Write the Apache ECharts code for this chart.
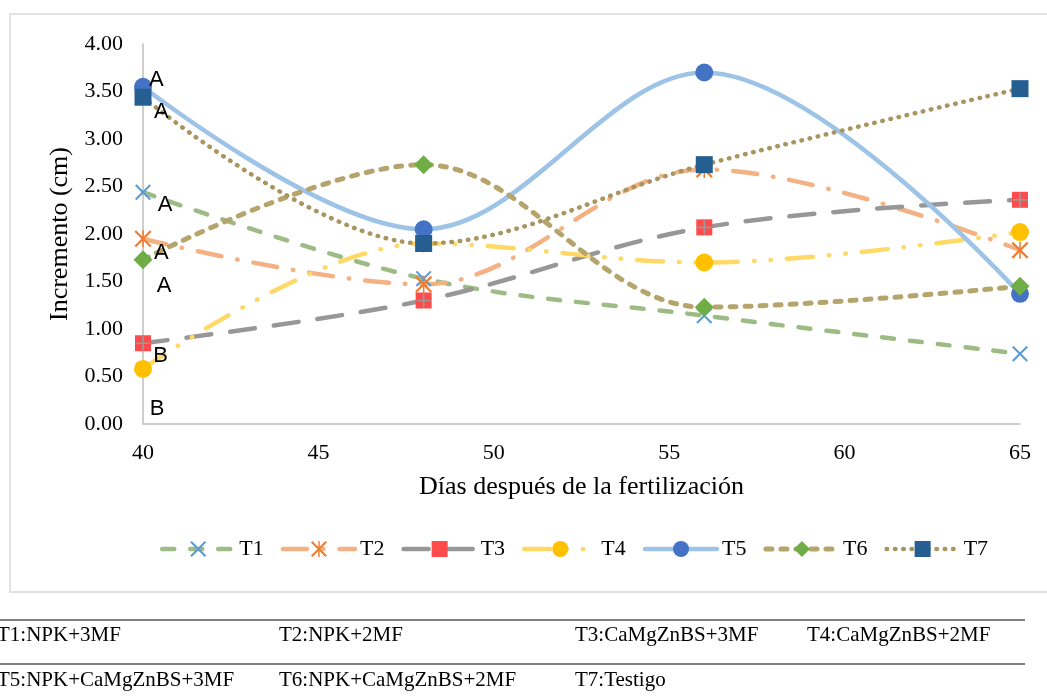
<!DOCTYPE html>
<html>
<head>
<meta charset="utf-8">
<style>
  html, body { margin: 0; padding: 0; background: #ffffff; }
  #chart { width: 1047px; height: 698px; }
</style>
<script src="https://cdn.jsdelivr.net/npm/echarts@6/dist/echarts.min.js"></script>
</head>
<body>
<div id="chart"></div>
<script>
// Days after fertilization at which growth was measured
const days = [40, 48, 56, 65];

// Growth increment (cm) per treatment
const t1 = [2.44, 1.53, 1.14, 0.74];
const t2 = [1.95, 1.47, 2.68, 1.83];
const t3 = [0.85, 1.30, 2.07, 2.36];
const t4 = [0.58, 1.90, 1.70, 2.02];
const t5 = [3.55, 2.05, 3.70, 1.37];
const t6 = [1.73, 2.73, 1.23, 1.45];
const t7 = [3.44, 1.90, 2.73, 3.53];

const seriesNames = ['T1', 'T2', 'T3', 'T4', 'T5', 'T6', 'T7'];

// Significance letters at day 40
const letterText = ['A', 'A', 'A', 'A', 'A', 'B', 'B'];
const letterX = [40.38, 40.52, 40.63, 40.52, 40.6, 40.5, 40.4];
const letterY = [3.62, 3.29, 2.31, 1.80, 1.45, 0.72, 0.16];

// Treatment descriptions shown under the chart
const notesRow1 = ['T1:NPK+3MF', 'T2:NPK+2MF', 'T3:CaMgZnBS+3MF', 'T4:CaMgZnBS+2MF'];
const notesRow2 = ['T5:NPK+CaMgZnBS+3MF', 'T6:NPK+CaMgZnBS+2MF', 'T7:Testigo'];

const serif = '"Liberation Serif", "Times New Roman", serif';
const sans = '"Liberation Sans", Arial, sans-serif';

const pairs = vals => days.map((d, i) => [d, vals[i]]);

// marker shapes
const crossPath = 'path://M0,0.9 L0.9,0 L10,9.1 L9.1,10 Z M9.1,0 L10,0.9 L0.9,10 L0,9.1 Z';
const starPath = 'path://M0,0.9 L0.9,0 L10,9.1 L9.1,10 Z M9.1,0 L10,0.9 L0.9,10 L0,9.1 Z M4.55,0 L5.45,0 L5.45,10 L4.55,10 Z';
const plusPath = 'path://M4.4,0 L5.6,0 L5.6,4.4 L10,4.4 L10,5.6 L5.6,5.6 L5.6,10 L4.4,10 L4.4,5.6 L0,5.6 L0,4.4 L4.4,4.4 Z';

// line look per treatment: colour, dash pattern, width
const lineLooks = {
  T1: { color: '#9DBB84', type: [12, 16], width: 4.5 },
  T2: { color: '#F4B183', type: [24, 16, 0.5, 16], width: 4.5 },
  T3: { color: '#979797', type: [25, 19], width: 4.5 },
  T4: { color: '#FFD966', type: [26, 16, 0.5, 16, 0.5, 16], width: 4.5 },
  T5: { color: '#9DC3E6', type: 'solid', width: 4.5 },
  T6: { color: '#B5A46B', type: [6, 9], width: 5 },
  T7: { color: '#A8955F', type: [0.5, 7.8], width: 4.5 }
};

function lineSeries(name, vals, symbol, symbolSize, markColor) {
  const look = lineLooks[name];
  return {
    name: name,
    type: 'line',
    data: pairs(vals),
    smooth: 0.35,
    symbol: symbol,
    symbolSize: symbolSize,
    showAllSymbol: true,
    itemStyle: { color: markColor, borderWidth: 0 },
    lineStyle: { color: look.color, width: look.width, type: look.type, cap: 'round' },
    emphasis: { disabled: true },
    z: 2
  };
}

const series = [
  lineSeries('T1', t1, crossPath, 16, '#5B9BD5'),
  lineSeries('T2', t2, starPath, 17, '#ED7D31'),
  lineSeries('T3', t3, 'rect', 16, '#FF4B4B'),
  lineSeries('T4', t4, 'circle', 18, '#FFC000'),
  lineSeries('T5', t5, 'circle', 18, '#4472C4'),
  lineSeries('T6', t6, 'diamond', 19, '#70AD47'),
  lineSeries('T7', t7, 'rect', 17, '#255E91'),
  {
    // gray cross drawn on top of the T3 squares
    name: 'T3',
    type: 'scatter',
    data: pairs(t3),
    symbol: plusPath,
    symbolSize: 14,
    itemStyle: { color: '#9A9A9A', opacity: 1 },
    emphasis: { disabled: true },
    z: 3
  },
  {
    name: 'letters',
    type: 'scatter',
    data: letterX.map((x, i) => [x, letterY[i], letterText[i]]),
    symbolSize: 0,
    itemStyle: { opacity: 1 },
    label: {
      show: true,
      position: 'inside',
      formatter: p => p.data[2],
      fontFamily: sans,
      fontSize: 22,
      color: '#000000',
      opacity: 1,
      textBorderWidth: 0
    },
    emphasis: { disabled: true },
    z: 5
  }
];

const graphics = [
  {
    type: 'rect',
    shape: { x: 10, y: 14, width: 1100, height: 578 },
    style: { fill: 'none', stroke: '#D9D9D9', lineWidth: 1.5 },
    silent: true
  },
  { type: 'line', shape: { x1: 0, y1: 620, x2: 1025, y2: 620 }, style: { stroke: '#808080', lineWidth: 2 } },
  { type: 'line', shape: { x1: 0, y1: 664, x2: 1025, y2: 664 }, style: { stroke: '#808080', lineWidth: 2 } }
];
const noteCols1 = [-3, 279, 575, 807];
const noteCols2 = [-3, 279, 575];
notesRow1.forEach((t, i) => graphics.push({
  type: 'text', x: noteCols1[i], y: 635,
  style: { text: t, font: '21px ' + serif, fill: '#000', verticalAlign: 'middle' }
}));
notesRow2.forEach((t, i) => graphics.push({
  type: 'text', x: noteCols2[i], y: 680,
  style: { text: t, font: '21px ' + serif, fill: '#000', verticalAlign: 'middle' }
}));

const chart = echarts.init(document.getElementById('chart'), null, { renderer: 'canvas' });
chart.setOption({
  animation: false,
  backgroundColor: '#ffffff',
  grid: { left: 143, right: 27, top: 44, bottom: 274, containLabel: false },
  legend: {
    data: seriesNames.map(n => ({
      name: n,
      lineStyle: { color: lineLooks[n].color, width: lineLooks[n].width, type: lineLooks[n].type, cap: 'round' }
    })),
    left: 155,
    top: 533,
    itemWidth: 72,
    itemHeight: 20,
    itemGap: 17,
    textStyle: { fontFamily: serif, fontSize: 22, color: '#000' }
  },
  xAxis: {
    type: 'value',
    min: 40,
    max: 65,
    interval: 5,
    name: 'Días después de la fertilización',
    nameLocation: 'middle',
    nameGap: 50,
    nameTextStyle: { fontFamily: serif, fontSize: 26, color: '#000' },
    axisLine: { lineStyle: { color: '#BFBFBF', width: 1.5 } },
    axisTick: { show: false },
    splitLine: { show: false },
    axisLabel: { fontFamily: serif, fontSize: 22, color: '#000', margin: 18 }
  },
  yAxis: {
    type: 'value',
    min: 0,
    max: 4,
    interval: 0.5,
    name: 'Incremento (cm)',
    nameLocation: 'middle',
    nameGap: 68,
    nameTextStyle: { fontFamily: serif, fontSize: 26, color: '#000' },
    axisLine: { show: true, lineStyle: { color: '#BFBFBF', width: 1.5 } },
    axisTick: { show: false },
    splitLine: { show: false },
    axisLabel: { fontFamily: serif, fontSize: 22, color: '#000', margin: 20, formatter: v => v.toFixed(2) }
  },
  series: series,
  graphic: graphics
});
</script>
</body>
</html>
